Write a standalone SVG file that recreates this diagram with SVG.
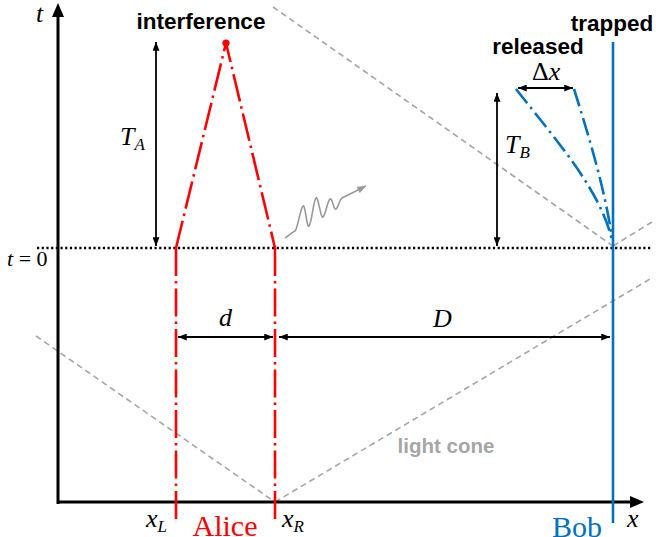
<svg xmlns="http://www.w3.org/2000/svg" width="656" height="537" viewBox="0 0 656 537">
<defs>
<marker id="ah" viewBox="0 0 10 8" refX="10" refY="4" markerWidth="9" markerHeight="7" markerUnits="userSpaceOnUse" orient="auto-start-reverse"><path d="M0,0 L10,4 L0,8 z" fill="#000"/></marker>
<marker id="gah" viewBox="0 0 10 8" refX="10" refY="4" markerWidth="9" markerHeight="7" markerUnits="userSpaceOnUse" orient="auto"><path d="M0,0 L10,4 L0,8 z" fill="#999"/></marker>
</defs>
<style>
.cone{fill:none;stroke:#a6a6a6;stroke-width:1.6;stroke-dasharray:6 4}
.dim{fill:none;stroke:#000;stroke-width:1.8;marker-start:url(#ah);marker-end:url(#ah)}
.red{fill:none;stroke:#ff0000;stroke-width:2.6;stroke-dasharray:28 5 2.5 5}
.blue{fill:none;stroke:#0070c0;stroke-width:2.6;stroke-dasharray:18 5 2.5 5}
.math{font-family:"Liberation Serif","Times New Roman",serif;font-style:italic;fill:#000}
.lbl{font-family:"Liberation Sans",Arial,sans-serif;font-weight:bold;font-size:22.5px;fill:#000}
.axis{stroke:#000;stroke-width:3;fill:none}
</style>
<g id="lightcone" class="cone">
<path d="M273,7 L613,246"/>
<path d="M613,246 L652,222"/>
<path d="M36,336 L275,502"/>
<path d="M275,502 L650,279"/>
</g>
<g id="axes">
<path class="axis" d="M58,504 L58,16"/>
<path d="M52,17 L58,3 L64,17 z" fill="#000"/>
<path class="axis" d="M57,502 L631,502"/>
<path d="M630,496 L644,502 L630,508 z" fill="#000"/>
<text class="math" x="36" y="22" font-size="26">t</text>
<text class="math" x="627" y="527" font-size="26">x</text>
</g>
<g id="t0">
<path d="M37,248 L652,248" stroke="#000" stroke-width="2.6" stroke-dasharray="2.2 2.5" fill="none"/>
<text x="7" y="266" font-family="'Liberation Serif','Times New Roman',serif" font-size="22"><tspan font-style="italic">t</tspan> = 0</text>
</g>
<g id="alice">
<path class="red" d="M176,248 L226,43 L275,248"/>
<path class="red" d="M176,248 L176,521"/>
<path class="red" d="M275,248 L275,521"/>
<circle cx="226" cy="43" r="3.6" fill="#ff0000"/>
<text x="225" y="536" font-family="'Liberation Serif','Times New Roman',serif" font-size="30" fill="#ff0000" text-anchor="middle">Alice</text>
<text class="math" x="146" y="527" font-size="26">x<tspan font-size="17" dy="5">L</tspan></text>
<text class="math" x="282" y="527" font-size="26">x<tspan font-size="17" dy="5">R</tspan></text>
<text class="lbl" x="201" y="29" text-anchor="middle">interference</text>
</g>
<g id="bob">
<path d="M613,42 L613,523" stroke="#0070c0" stroke-width="2.6" fill="none"/>
<path class="blue" d="M516,89 C560,145 600,190 612,240"/>
<path class="blue" d="M574,89 C590,140 605,190 612,238"/>
<text x="577" y="537" font-family="'Liberation Serif','Times New Roman',serif" font-size="30" fill="#0070c0" text-anchor="middle">Bob</text>
<text class="lbl" x="612" y="31" text-anchor="middle">trapped</text>
<text class="lbl" x="538" y="54" text-anchor="middle">released</text>
</g>
<g id="photon">
<path d="M285,238 C289,236 292,232 295,231 C297.5,229.4 300.5,207.6 303,206 C305.5,204.4 306.5,227.6 309,226 C311.5,224.4 313.5,199.6 316,198 C318.5,196.4 320.5,218.6 323,217 C325.5,215.4 327.5,200.6 330,199 C332.5,197.4 333.5,210.6 336,209 C338.5,207.4 339.5,199.6 342,198 L366,186" fill="none" stroke="#999" stroke-width="1.6" marker-end="url(#gah)"/>
</g>
<g id="connectors">
<path class="dim" d="M156,42 L156,246"/>
<path class="dim" d="M497,93 L497,246"/>
<path class="dim" d="M518,88 L573,88"/>
<path class="dim" d="M178,337 L273,337"/>
<path class="dim" d="M279,337 L610,337"/>
</g>
<g id="labels">
<text class="math" x="120" y="145" font-size="26">T<tspan font-size="17" dy="5">A</tspan></text>
<text class="math" x="505" y="153" font-size="26">T<tspan font-size="17" dy="5">B</tspan></text>
<text x="532" y="80" font-family="'Liberation Serif','Times New Roman',serif" font-size="26">Δ<tspan font-style="italic">x</tspan></text>
<text class="math" x="219" y="326" font-size="26">d</text>
<text class="math" x="433" y="327" font-size="26">D</text>
<text x="446" y="453" font-family="'Liberation Sans',Arial,sans-serif" font-weight="bold" font-size="20.5" fill="#a6a6a6" text-anchor="middle">light cone</text>
</g>
</svg>
